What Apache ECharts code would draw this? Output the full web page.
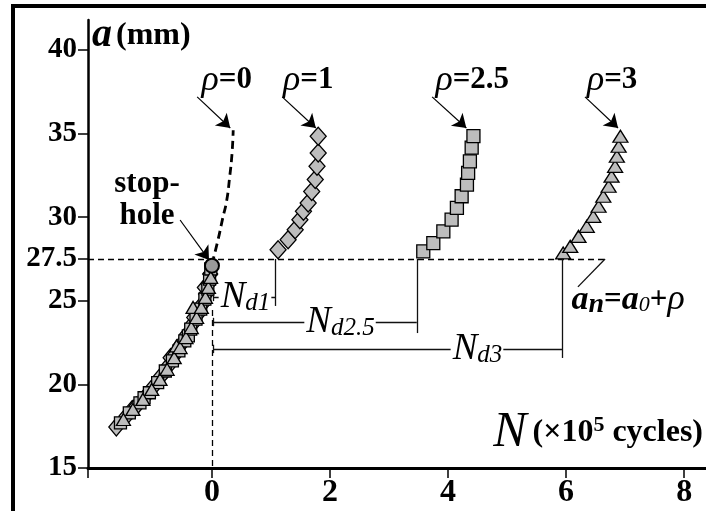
<!DOCTYPE html>
<html>
<head>
<meta charset="utf-8">
<script src="https://cdn.jsdelivr.net/npm/echarts@6/dist/echarts.min.js"></script>
<style>
  html, body { margin: 0; padding: 0; background: #fff; }
  #chart { width: 706px; height: 511px; }
</style>
</head>
<body>
<div id="chart"></div>
<script>
// crack length a (mm) vs cycles N (x10^5)
const xTicks = [0, 2, 4, 6, 8];
const yTicks = [15, 20, 25, 27.5, 30, 35, 40];

// growth before the stop-hole (all specimens overlap)
const rho0Pre = [[-1.58,17.6],[-1.42,18.2],[-1.25,18.8],[-1.09,19.4],[-0.95,20.0],[-0.82,20.6],[-0.70,21.3],[-0.59,21.9],[-0.49,22.5],[-0.39,23.1],[-0.30,23.7],[-0.21,24.3],[-0.14,24.9],[-0.08,25.5],[-0.05,26.1],[-0.02,26.7]];
const rho1Pre = [[-1.62,17.45],[-1.45,18.1],[-1.35,18.5],[-1.28,18.7],[-1.12,19.3],[-0.98,19.9],[-0.86,20.5],[-0.74,21.1],[-0.70,21.6],[-0.62,21.8],[-0.52,22.4],[-0.42,23.0],[-0.33,23.6],[-0.30,24.0],[-0.24,24.2],[-0.16,24.8],[-0.10,25.4],[-0.12,25.8],[-0.06,26.0],[-0.03,26.6]];
const rho25Pre = [[-1.55,17.7],[-1.40,18.3],[-1.22,18.9],[-1.15,19.2],[-1.06,19.5],[-0.92,20.1],[-0.79,20.8],[-0.67,21.4],[-0.56,22.0],[-0.46,22.6],[-0.40,22.9],[-0.36,23.3],[-0.27,23.9],[-0.19,24.5],[-0.12,25.1],[-0.07,25.7],[-0.04,26.3],[-0.02,26.9]];
const rho3Pre = [[-1.50,17.9],[-1.34,18.5],[-1.17,19.1],[-1.02,19.7],[-0.88,20.3],[-0.76,20.9],[-0.64,21.6],[-0.60,22.3],[-0.54,22.2],[-0.44,22.8],[-0.35,23.4],[-0.26,24.0],[-0.32,24.6],[-0.18,24.6],[-0.11,25.2],[-0.06,25.8],[-0.02,26.4]];
const stopHole = [[0.0,27.1]];

// growth after re-initiation
const rho0After = [[0.0,27.2],[0.1,28.6],[0.18,29.9],[0.25,31.0],[0.3,32.4],[0.34,33.8],[0.36,35.2]];
const rho1After = [[1.12,28.05],[1.29,28.65],[1.41,29.25],[1.49,29.85],[1.55,30.35],[1.63,30.85],[1.69,31.54],[1.75,32.25],[1.78,33.04],[1.80,33.84],[1.80,34.84]];
const rho25After = [[3.58,27.95],[3.75,28.45],[3.92,29.15],[4.06,29.85],[4.15,30.55],[4.23,31.25],[4.32,31.95],[4.34,32.65],[4.37,33.34],[4.40,34.16],[4.43,34.84]];
const rho3After = [[5.95,27.86],[6.07,28.25],[6.21,28.85],[6.35,29.45],[6.46,30.05],[6.55,30.65],[6.63,31.25],[6.72,31.85],[6.77,32.45],[6.83,33.04],[6.86,33.64],[6.89,34.24],[6.92,34.84]];

// delay lengths N_d (start, end) and where their dimension lines sit
const aStop = 27.5;
const delays = [
  { name: 'd1', from: 0.02, to: 1.07, at: 25.23, bottom: 24.69, labelX: 0.56 },
  { name: 'd2.5', from: 0.02, to: 3.47, at: 23.73, bottom: 23.07, labelX: 2.17 },
  { name: 'd3', from: 0.02, to: 5.93, at: 22.12, bottom: 21.58, labelX: 4.49 }
];
const rhoLabels = [
  { text: '0', pos: [0.25, 38.2], from: [-0.25, 37.19], to: [0.31, 35.33] },
  { text: '1', pos: [1.63, 38.2], from: [1.19, 37.19], to: [1.76, 35.33] },
  { text: '2.5', pos: [4.41, 38.2], from: [3.73, 37.19], to: [4.31, 35.33] },
  { text: '3', pos: [6.78, 38.2], from: [6.32, 37.19], to: [6.88, 35.33] }
];

const SERIF = 'Liberation Serif';
const gray = '#bdbdbd';
const chart = echarts.init(document.getElementById('chart'));

const thin = { color: '#111', width: 1.3, type: 'solid' };
const guideLines = [
  // horizontal stop-hole level
  [{ coord: [-2.1, aStop], lineStyle: { type: [6, 4], width: 1.3, color: '#000' } }, { coord: [6.66, aStop] }],
  // pointer to a_n label
  [{ coord: [6.66, aStop], lineStyle: thin }, { coord: [6.2, 25.83] }],
  // N = 0 dashed
  [{ coord: [0, 24.45], lineStyle: { type: [6, 4], width: 1.3, color: '#000' } }, { coord: [0, 15] }]
];
delays.forEach(d => {
  guideLines.push([{ coord: [d.from, d.at], lineStyle: thin }, { coord: [d.to, d.at] }]);
  guideLines.push([{ coord: [d.to, aStop], lineStyle: thin }, { coord: [d.to, d.bottom] }]);
  guideLines.push([{ coord: [d.from, d.at + 0.25], lineStyle: thin }, { coord: [d.from, d.at - 0.25] }]);
});
const arrowLines = rhoLabels.map(r => [{ coord: r.from }, { coord: r.to }]);
arrowLines.push([{ coord: [-0.54, 29.83] }, { coord: [-0.05, 27.44] }]);

const markerStyle = { color: gray, borderColor: '#000', borderWidth: 1.3, opacity: 1 };

const textPoints = [];
rhoLabels.forEach(r => textPoints.push({ value: r.pos, label: { formatter: '{r|ρ}{b|=' + r.text + '}' } }));
delays.forEach(d => textPoints.push({ value: [d.labelX, d.at], label: { formatter: '{N|N}{d|' + d.name + '}', backgroundColor: '#fff', padding: [0, 1, 0, 2] } }));
textPoints.push({ value: [-1.1, 31.0], label: { formatter: '{b|stop-}\n{b|hole}', lineHeight: 32 } });
textPoints.push({ value: [7.05, 25.05], label: { formatter: '{ai|a}{sn|n}{b|=}{ai|a}{s0|0}{b|+}{r|ρ}' } });

chart.setOption({
  animation: false,
  grid: { left: 88, right: 0, top: 20, bottom: 43 },
  graphic: [
    { type: 'line', shape: { x1: 13, y1: 6, x2: 13, y2: 511 }, style: { stroke: '#000', lineWidth: 4 } },
    { type: 'line', shape: { x1: 11, y1: 6, x2: 706, y2: 6 }, style: { stroke: '#000', lineWidth: 4 } }
  ],
  xAxis: {
    type: 'value', min: -2.1, max: 8.37,
    splitLine: { show: false },
    axisLine: { onZero: false, lineStyle: { color: '#000', width: 3 } },
    axisTick: { inside: false, length: 10, lineStyle: { color: '#000', width: 1.5 }, customValues: [-2.1].concat(xTicks) },
    axisLabel: { customValues: xTicks, color: '#000', fontFamily: SERIF, fontWeight: 'bold', fontSize: 32, margin: 9 },
    name: '{N|N}{u|(×10}{s|5}{u| cycles)}',
    nameLocation: 'end', nameGap: -3,
    nameTextStyle: {
      align: 'right', verticalAlign: 'bottom', padding: [0, 0, 10, 0],
      rich: {
        N: { fontFamily: SERIF, fontStyle: 'italic', fontSize: 50, color: '#000', padding: [0, 6, 0, 0] },
        u: { fontFamily: SERIF, fontWeight: 'bold', fontSize: 32, color: '#000' },
        s: { fontFamily: SERIF, fontWeight: 'bold', fontSize: 22, color: '#000', padding: [0, 0, 16, 0] }
      }
    }
  },
  yAxis: {
    type: 'value', min: 15, max: 41.79,
    splitLine: { show: false },
    axisLine: { onZero: false, lineStyle: { color: '#000', width: 2.5 } },
    axisTick: { inside: false, length: 10, lineStyle: { color: '#000', width: 1.5 }, customValues: yTicks },
    axisLabel: { customValues: yTicks, color: '#000', fontFamily: SERIF, fontWeight: 'bold', fontSize: 29, margin: 11 },
    name: '{a|a}{u|(mm)}',
    nameLocation: 'end', nameGap: -16,
    nameTextStyle: {
      align: 'left', verticalAlign: 'middle', padding: [0, 0, 0, 4],
      rich: {
        a: { fontFamily: SERIF, fontStyle: 'italic', fontWeight: 'bold', fontSize: 40, color: '#000', padding: [0, 4, 0, 0] },
        u: { fontFamily: SERIF, fontWeight: 'bold', fontSize: 32, color: '#000' }
      }
    }
  },
  series: [
    {
      type: 'line', data: [], silent: true, z: 1,
      markLine: { silent: true, symbol: 'none', label: { show: false }, data: guideLines, lineStyle: { color: '#111' } }
    },
    {
      type: 'line', data: [], silent: true, z: 1,
      markLine: {
        silent: true, symbol: ['none', 'arrow'], symbolSize: 13, label: { show: false }, data: arrowLines,
        itemStyle: { color: '#000' },
        lineStyle: { color: '#000', width: 1.2, type: 'solid' }
      }
    },
    { name: 'ρ=0', type: 'line', data: rho0After, showSymbol: false, smooth: true, lineStyle: { color: '#000', width: 2.8, type: [8, 5] }, z: 3 },
    { name: 'ρ=0 pre', type: 'scatter', data: rho0Pre, symbol: 'circle', symbolSize: 10, itemStyle: { color: '#a8a8a8', borderColor: '#000', borderWidth: 1.5, opacity: 1 }, z: 3 },
    { name: 'ρ=1 pre', type: 'scatter', data: rho1Pre, symbol: 'diamond', symbolSize: [15, 18], itemStyle: markerStyle, z: 4 },
    { name: 'ρ=2.5 pre', type: 'scatter', data: rho25Pre, symbol: 'rect', symbolSize: 12, itemStyle: markerStyle, z: 4 },
    { name: 'ρ=3 pre', type: 'scatter', data: rho3Pre, symbol: 'triangle', symbolSize: [14, 12], itemStyle: markerStyle, z: 4 },
    { name: 'stop-hole', type: 'scatter', data: stopHole, symbol: 'circle', symbolSize: 14, itemStyle: { color: '#9a9a9a', borderColor: '#000', borderWidth: 2, opacity: 1 }, z: 5 },
    { name: 'ρ=1', type: 'scatter', data: rho1After, symbol: 'diamond', symbolSize: [16, 18], itemStyle: markerStyle, z: 4 },
    { name: 'ρ=2.5', type: 'scatter', data: rho25After, symbol: 'rect', symbolSize: 13, itemStyle: markerStyle, z: 4 },
    { name: 'ρ=3', type: 'scatter', data: rho3After, symbol: 'triangle', symbolSize: [15, 12], itemStyle: markerStyle, z: 4 },
    {
      type: 'scatter', data: textPoints, symbolSize: 0, silent: true, z: 6,
      itemStyle: { opacity: 1 },
      label: {
        show: true, position: 'inside', color: '#000',
        rich: {
          r: { fontFamily: SERIF, fontStyle: 'italic', fontSize: 36, color: '#000' },
          b: { fontFamily: SERIF, fontWeight: 'bold', fontSize: 31, color: '#000' },
          N: { fontFamily: SERIF, fontStyle: 'italic', fontSize: 37, color: '#000' },
          d: { fontFamily: SERIF, fontStyle: 'italic', fontSize: 25, color: '#000', padding: [12, 0, 0, 0] },
          ai: { fontFamily: SERIF, fontStyle: 'italic', fontWeight: 'bold', fontSize: 34, color: '#000' },
          sn: { fontFamily: SERIF, fontStyle: 'italic', fontWeight: 'bold', fontSize: 28, color: '#000', padding: [10, 0, 0, 0] },
          s0: { fontFamily: SERIF, fontStyle: 'italic', fontSize: 22, color: '#000', padding: [10, 0, 0, 0] }
        }
      }
    }
  ]
});
</script>
</body>
</html>
